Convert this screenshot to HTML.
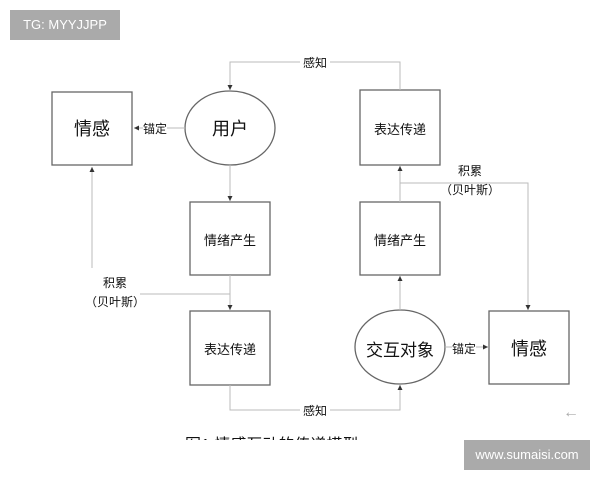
<!DOCTYPE html><html><head><meta charset="utf-8"><style>
body{margin:0;width:600px;height:480px;background:#fff;overflow:hidden;position:relative;font-family:"Liberation Sans","Noto Sans CJK SC",sans-serif}
.t{position:absolute;color:#111}
</style></head><body>
<svg width="600" height="480" style="position:absolute;left:0;top:0">
<defs><marker id="a" markerWidth="6" markerHeight="6" refX="5" refY="3" orient="auto"><path d="M0,0.5 L5,3 L0,5.5z" fill="#333"/></marker></defs>
<g fill="#fff" stroke="#666" stroke-width="1.3">
<rect x="52" y="92" width="80" height="73"/>
<ellipse cx="230" cy="128" rx="45" ry="37"/>
<rect x="190" y="202" width="80" height="73"/>
<rect x="190" y="311" width="80" height="74"/>
<rect x="360" y="90" width="80" height="75"/>
<rect x="360" y="202" width="80" height="73"/>
<ellipse cx="400" cy="347" rx="45" ry="37"/>
<rect x="489" y="311" width="80" height="73"/>
</g>
<g fill="none" stroke="#bbb" stroke-width="1">
<path d="M400,90 V62 H230 V90" marker-end="url(#a)"/>
<path d="M185,128 H134" marker-end="url(#a)"/>
<path d="M230,165 V201" marker-end="url(#a)"/>
<path d="M230,275 V310" marker-end="url(#a)"/>
<path d="M140,294 H230"/>
<path d="M92,268 V167" marker-end="url(#a)"/>
<path d="M230,385 V410 H400 V385" marker-end="url(#a)"/>
<path d="M400,310 V276" marker-end="url(#a)"/>
<path d="M400,202 V166" marker-end="url(#a)"/>
<path d="M400,183 H528 V310" marker-end="url(#a)"/>
<path d="M445,347 H488" marker-end="url(#a)"/>
</g>
</svg>
<div class="t" style="left:10px;top:10px;width:110px;height:30px;background:#aaa;color:#fff;font-size:13px;line-height:30px;text-align:center">TG: MYYJJPP</div>
<div class="t" style="left:52px;top:115px;width:80px;text-align:center;font-size:18px">情感</div>
<div class="t" style="left:185px;top:115px;width:90px;text-align:center;font-size:18px">用户</div>
<div class="t" style="left:143px;top:120px;font-size:12px;background:#fff">锚定</div>
<div class="t" style="left:300px;top:54px;font-size:12px;background:#fff;padding:0 3px">感知</div>
<div class="t" style="left:300px;top:402px;font-size:12px;background:#fff;padding:0 3px">感知</div>
<div class="t" style="left:190px;top:230px;width:80px;text-align:center;font-size:13px">情绪产生</div>
<div class="t" style="left:190px;top:339px;width:80px;text-align:center;font-size:13px">表达传递</div>
<div class="t" style="left:360px;top:119px;width:80px;text-align:center;font-size:13px">表达传递</div>
<div class="t" style="left:360px;top:230px;width:80px;text-align:center;font-size:13px">情绪产生</div>
<div class="t" style="left:355px;top:336px;width:90px;text-align:center;font-size:17px">交互对象</div>
<div class="t" style="left:489px;top:335px;width:80px;text-align:center;font-size:18px">情感</div>
<div class="t" style="left:452px;top:340px;font-size:12px;background:#fff">锚定</div>
<div class="t" style="left:80px;top:274px;width:70px;text-align:center;font-size:12px;line-height:19px">积累<br>（贝叶斯）</div>
<div class="t" style="left:435px;top:162px;width:70px;text-align:center;font-size:12px;line-height:19px;background:transparent">积累<br>（贝叶斯）</div>
<div class="t" style="left:563px;top:404px;font-size:16px;color:#aaa">←</div>
<div class="t" style="left:185px;top:436px;width:270px;height:4px;overflow:hidden;font-size:16px;line-height:20px">图1 情感互动的传递模型</div>
<div class="t" style="left:464px;top:440px;width:126px;height:30px;background:#aaa;color:#fff;font-size:13px;line-height:30px;text-align:center">www.sumaisi.com</div>
</body></html>
